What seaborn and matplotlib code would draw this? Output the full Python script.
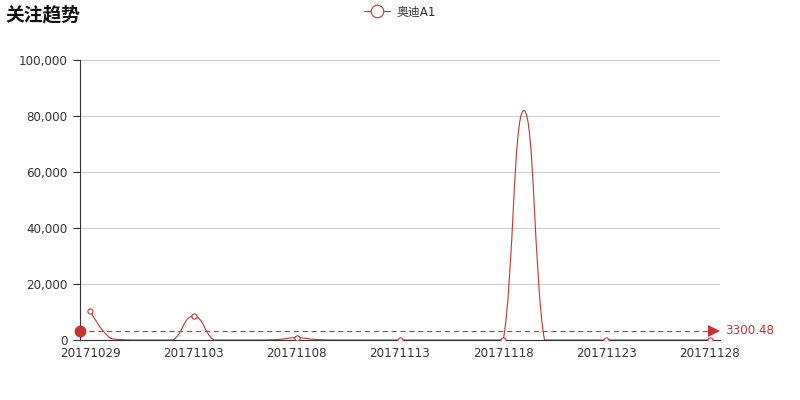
import numpy as np
import pandas as pd
import matplotlib
matplotlib.use('Agg')
import matplotlib.pyplot as plt
from matplotlib.path import Path
from matplotlib.patches import PathPatch
from matplotlib.lines import Line2D
from matplotlib.ticker import FuncFormatter
import seaborn as sns

# dados
dates = ['201710%02d' % d for d in range(29, 32)] + ['201711%02d' % d for d in range(1, 29)]
values = [10250, 500, 0, 0, 0, 8500, 0, 0, 0, 150,
          800, 150, 0, 0, 0, 0, 0, 0, 0, 0,
          0, 81965, 0, 0, 0, 0, 0, 0, 0, 0,
          0]
series_name = '奥迪A1'
title = '关注趋势'
y_ticks = [0, 20000, 40000, 60000, 80000, 100000]

RED = '#c23531'
TXT = '#333333'

sns.set_theme(style='white')
plt.rcParams['font.family'] = ['DejaVu Sans', 'Noto Sans CJK SC']

df = pd.DataFrame({'idx': np.arange(len(dates)), 'data': dates, 'valor': values})

fig = plt.figure(figsize=(8, 4), dpi=100)
ax = fig.add_axes([0.1, 0.15, 0.8, 0.7])
ax.set_xlim(-0.5, len(dates) - 0.5)
ax.set_ylim(0, 100000)

# curva suavizada (bezier, tangente = vizinho seguinte - anterior)
pts = np.column_stack([df['idx'], df['valor']]).astype(float)
lo, hi = pts.min(axis=0), pts.max(axis=0)
k = 0.25
n = len(pts)
cps = []
for i in range(n):
    p = pts[i]
    if i == 0 or i == n - 1:
        cps.append((p.copy(), p.copy()))
        continue
    v = (pts[i + 1] - pts[i - 1]) * k
    cps.append((np.clip(p - v, lo, hi), np.clip(p + v, lo, hi)))
verts = [pts[0]]
codes = [Path.MOVETO]
for i in range(n - 1):
    verts += [cps[i][1], cps[i + 1][0], pts[i + 1]]
    codes += [Path.CURVE4] * 3
ax.add_patch(PathPatch(Path(np.array(verts), codes), facecolor='none', edgecolor=RED,
                       lw=0.8, zorder=3))

# simbolos a cada 5 pontos
sns.scatterplot(data=df.iloc[::5], x='idx', y='valor', ax=ax, s=14, color='white',
                edgecolor=RED, linewidth=0.8, zorder=4, legend=False)

# linha da media
media = np.mean(values)
x_fim = len(dates) - 0.5 - 0.31
ax.plot([-0.5, x_fim], [media, media], ls=(0, (4.5, 3.5)), color=RED, lw=0.8,
        zorder=3, clip_on=False)
ax.plot([-0.5], [media], 'o', color=RED, ms=7.5, clip_on=False, zorder=5)
ax.plot([x_fim], [media], '>', color=RED, ms=9, mew=0, clip_on=False, zorder=5)
ax.text(len(dates) - 0.5 + 0.25, media, f'{media:.2f}', color=RED, fontsize=8.6,
        va='center', ha='left')

# eixos
ax.set_yticks(y_ticks)
ax.yaxis.set_major_formatter(FuncFormatter(lambda v, p: f'{v:,.0f}'))
ax.set_xticks(np.arange(0, len(dates), 5))
ax.set_xticklabels(dates[::5])
ax.set_xticks(np.arange(-0.5, len(dates), 5), minor=True)
ax.tick_params(axis='x', which='major', length=0, pad=5, labelsize=8.6, labelcolor=TXT)
ax.tick_params(axis='x', which='minor', length=4, width=0.8, color=TXT, direction='out')
ax.tick_params(axis='y', length=5, width=0.8, color=TXT, direction='out', pad=4,
               labelsize=8.6, labelcolor=TXT, left=True)
ax.grid(axis='y', color='#cccccc', lw=0.8)
ax.grid(axis='x', visible=False)
for side in ['top', 'right']:
    ax.spines[side].set_visible(False)
for side in ['left', 'bottom']:
    ax.spines[side].set_color(TXT)
    ax.spines[side].set_linewidth(0.8)
ax.set_xlabel('')
ax.set_ylabel('')

fig.text(0.007, 0.962, title, fontsize=13.5, fontweight='bold', color='#111111', va='center',
         family=['Noto Sans CJK SC', 'DejaVu Sans'])
h = Line2D([], [], color=RED, lw=0.8, marker='o', ms=9, mfc='white', mec=RED, mew=0.8)
fig.legend([h], [series_name], loc='center', bbox_to_anchor=(0.5, 0.97), frameon=False,
           fontsize=8.6, handlelength=2.2, handletextpad=0.5, labelcolor=TXT)

fig.savefig('out.png', dpi=100)
